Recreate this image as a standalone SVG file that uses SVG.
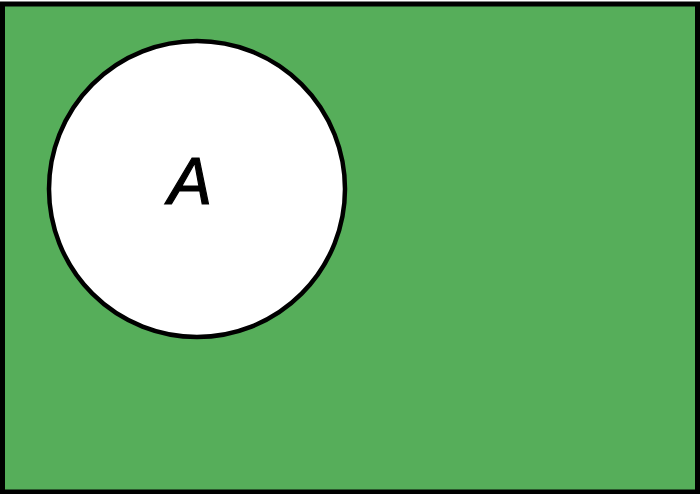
<svg xmlns="http://www.w3.org/2000/svg" width="700" height="494" viewBox="0 0 700 494">
<style>
.bg{fill:#56ae5a;stroke:#000;stroke-width:5}
.set{fill:#fff;stroke:#000;stroke-width:4.5}
.lbl{font-family:"Liberation Sans",Arial,sans-serif;font-style:italic;font-size:66px;fill:#000;stroke:#000;stroke-width:1.2;text-anchor:middle}
</style>
<g id="universe"><rect class="bg" x="2.5" y="4" width="695" height="488"/></g>
<g id="setA">
<circle class="set" cx="197" cy="189" r="148"/>
<text class="lbl" x="190" y="203.5">A</text>
</g>
<g id="connectors"/>
</svg>
